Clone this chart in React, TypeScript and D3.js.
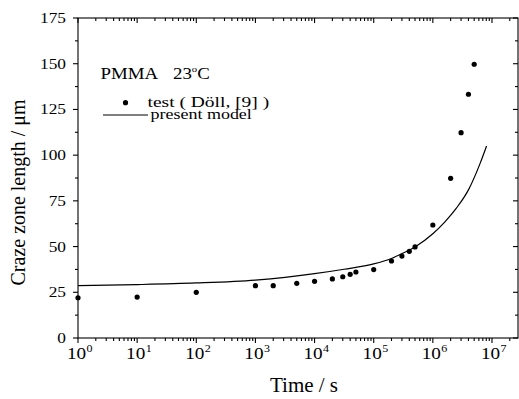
import React from "react";
import * as d3 from "d3";

// Test data (Döll, [9]) : time (s) and craze zone length (µm)
const testTime = [1, 10, 100, 1000, 2000, 5000, 10000, 20000, 30000, 40000, 50000, 100000, 200000, 300000, 400000, 500000, 1000000, 2000000, 3000000, 4000000, 5000000];
const testLength = [22.0, 22.4, 25.0, 28.6, 28.6, 29.9, 31.0, 32.3, 33.5, 34.8, 36.1, 37.4, 42.1, 44.8, 47.4, 49.8, 61.8, 87.3, 112.3, 133.3, 149.7];

// Present model curve
const modelTime = [1, 10, 100, 1000, 3162, 10000, 31620, 100000, 200000, 316200, 500000, 1000000, 1600000, 2500000, 4000000, 6300000, 8100000];
const modelLength = [28.6, 29.2, 30.1, 31.7, 33.2, 35.2, 37.6, 40.5, 43.5, 46.5, 49.8, 57.0, 63.5, 71.0, 81.0, 95.5, 105.0];

const yTicks = [0, 25, 50, 75, 100, 125, 150, 175];
const xDecades = [0, 1, 2, 3, 4, 5, 6, 7];

const FONT = "'Liberation Serif', 'Times New Roman', serif";

function SText({ x, y, sx = 1.25, size, anchor = "start", children }: any) {
  return (
    <text transform={`translate(${x},${y}) scale(${sx},1)`} fontSize={size} textAnchor={anchor}>
      {children}
    </text>
  );
}

export default function App() {
  const W = 519, H = 399;
  const L = 78, R = 518, T = 18, B = 338;
  const x = d3.scaleLog().domain([1, Math.pow(10, 7.44)]).range([L, R]);
  const y = d3.scaleLinear().domain([0, 175]).range([B, T]);

  const minorX: number[] = [];
  for (let d = 0; d <= 7; d++) {
    for (let m = 2; m <= 9; m++) {
      const v = m * Math.pow(10, d);
      if (v <= x.domain()[1]) minorX.push(v);
    }
  }
  const minorY = yTicks.slice(0, -1).map((v) => v + 12.5);

  const line = d3
    .line<number>()
    .x((_, i) => x(modelTime[i]))
    .y((d) => y(d))
    .curve(d3.curveMonotoneX);

  const sw = 1.1;
  return (
    <svg width={W} height={H} style={{ position: "absolute", left: 0, top: 0 }} fontFamily={FONT}>
      <rect x={0} y={0} width={W} height={H} fill="#fff" />
      {/* frame */}
      <rect x={L} y={T} width={R - L} height={B - T} fill="none" stroke="#000" strokeWidth={sw} />
      {/* left ticks (out) */}
      {yTicks.map((v) => (
        <line key={"yl" + v} x1={L - 5} x2={L} y1={y(v)} y2={y(v)} stroke="#000" strokeWidth={sw} />
      ))}
      {minorY.map((v) => (
        <line key={"ylm" + v} x1={L - 3} x2={L} y1={y(v)} y2={y(v)} stroke="#000" strokeWidth={sw} />
      ))}
      {/* right ticks (in) */}
      {yTicks.map((v) => (
        <line key={"yr" + v} x1={R - 5} x2={R} y1={y(v)} y2={y(v)} stroke="#000" strokeWidth={sw} />
      ))}
      {minorY.map((v) => (
        <line key={"yrm" + v} x1={R - 3} x2={R} y1={y(v)} y2={y(v)} stroke="#000" strokeWidth={sw} />
      ))}
      {/* bottom ticks (out) & top ticks (in) */}
      {xDecades.map((d) => {
        const px = x(Math.pow(10, d));
        return (
          <g key={"xd" + d}>
            <line x1={px} x2={px} y1={B} y2={B + 5} stroke="#000" strokeWidth={sw} />
            <line x1={px} x2={px} y1={T} y2={T + 5} stroke="#000" strokeWidth={sw} />
          </g>
        );
      })}
      {minorX.map((v, i) => {
        const px = x(v);
        return (
          <g key={"xm" + i}>
            <line x1={px} x2={px} y1={B} y2={B + 3} stroke="#000" strokeWidth={sw} />
            <line x1={px} x2={px} y1={T} y2={T + 3} stroke="#000" strokeWidth={sw} />
          </g>
        );
      })}
      {/* y tick labels */}
      {yTicks.map((v) => (
        <SText key={"ylab" + v} x={L - 12} y={y(v) + 5} size={14} sx={1.24} anchor="end">
          {v}
        </SText>
      ))}
      {/* x tick labels */}
      {xDecades.map((d) => {
        const px = x(Math.pow(10, d));
        return (
          <g key={"xlab" + d}>
            <SText x={px - 1.5} y={359.3} size={16} sx={1.2} anchor="middle">10</SText>
            <SText x={px + 8.5} y={351.5} size={10} sx={1.2}>{d}</SText>
          </g>
        );
      })}
      {/* axis titles */}
      <text x={304} y={392} textAnchor="middle" fontSize={21}>Time / s</text>
      <text transform={`translate(25,192.5) rotate(-90)`} textAnchor="middle" fontSize={20}>
        Craze zone length / μm
      </text>
      {/* model curve */}
      <path d={line(modelLength) || ""} fill="none" stroke="#000" strokeWidth={1.2} />
      {/* test points */}
      {testTime.map((t, i) => (
        <circle key={"p" + i} cx={x(t)} cy={y(testLength[i])} r={2.6} fill="#000" />
      ))}
      {/* annotation & legend */}
      <SText x={100.5} y={79} size={16} sx={1.18}>PMMA</SText>
      <SText x={173} y={79} size={16} sx={1.18}>
        23
        <tspan fontSize={9} dy={-7}>o</tspan>
        <tspan dy={7}>C</tspan>
      </SText>
      <circle cx={125.5} cy={102.7} r={2.6} fill="#000" />
      <SText x={147.5} y={106.5} size={15} sx={1.3}>test ( Döll, [9] )</SText>
      <line x1={103} x2={148} y1={115} y2={115} stroke="#000" strokeWidth={1.2} />
      <SText x={150.5} y={119} size={15} sx={1.2}>present model</SText>
    </svg>
  );
}
